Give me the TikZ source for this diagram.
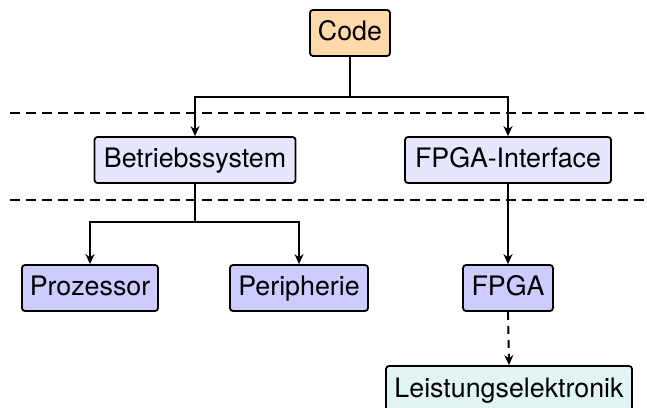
\documentclass[tikz,border=0pt]{standalone}
\usepackage{fontspec}
\setmainfont{TeX Gyre Heros}
\usetikzlibrary{arrows.meta}
\definecolor{codefill}{RGB}{255,217,170}
\definecolor{swfill}{RGB}{230,230,255}
\definecolor{hwfill}{RGB}{204,204,255}
\definecolor{lefill}{RGB}{225,245,245}
\begin{document}
\begin{tikzpicture}[x=1pt,y=-1pt,
  box/.style={draw,line width=1.8pt,rounded corners=3pt,minimum height=46pt,
    inner sep=0pt,font=\fontsize{26.8}{31}\selectfont,text height=19pt,text depth=5pt},
  conn/.style={line width=1.9pt},
  arr/.style={conn,-{Stealth[length=10pt,width=9pt]}},
  sep/.style={line width=1.6pt,dash pattern=on 10pt off 6pt}]
\useasboundingbox (0,0) rectangle (647,407);
\node[box,fill=codefill,minimum width=80pt] (code) at (350,33) {Code};
\node[box,fill=swfill,minimum width=201pt] (bs) at (195,160) {Betriebssystem};
\node[box,fill=swfill,minimum width=206pt] (fi) at (508,160) {FPGA-Interface};
\node[box,fill=hwfill,minimum width=136pt] (proz) at (90,288) {Prozessor};
\node[box,fill=hwfill,minimum width=138pt] (peri) at (299,288) {Peripherie};
\node[box,fill=hwfill,minimum width=90pt] (fpga) at (508,288) {FPGA};
\node[box,fill=lefill,minimum width=246pt,minimum height=48pt] (le) at (509,390) {Leistungselektronik};
\coordinate (j1) at (350,97);
\coordinate (j2) at (195,222);
\draw[sep] (10,113) -- (645,113);
\draw[sep] (10,200) -- (645,200);
\draw[conn] (code.south) -- (j1);
\draw[arr] (j1) -| (bs.north);
\draw[arr] (j1) -| (fi.north);
\draw[conn] (bs.south) -- (j2);
\draw[arr] (j2) -| (proz.north);
\draw[arr] (j2) -| (peri.north);
\draw[arr] (fi.south) -- (fpga.north);
\draw[arr,dash pattern=on 8pt off 6pt] (fpga.south) -- (le.north);
\end{tikzpicture}
\end{document}
